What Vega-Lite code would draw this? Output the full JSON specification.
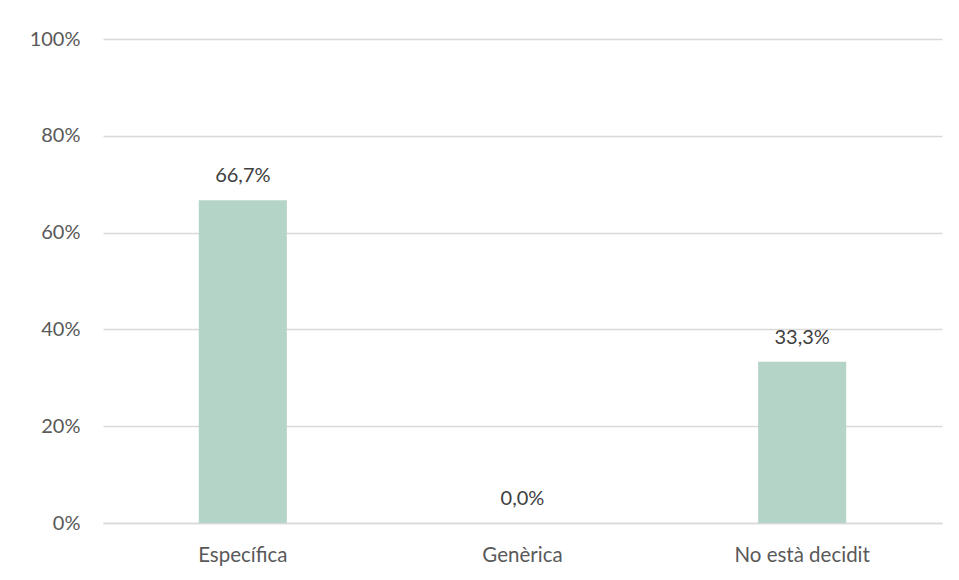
{
  "$schema": "https://vega.github.io/schema/vega-lite/v6.json",
  "width": 839,
  "height": 484,
  "autosize": {"type": "none"},
  "padding": {"left": 103, "top": 39, "right": 17, "bottom": 57},
  "background": "white",
  "config": {
    "locale": {"number": {"decimal": ",", "thousands": ".", "grouping": [3], "currency": ["", " €"]}},
    "view": {"stroke": null},
    "font": "Lato"
  },
  "data": {"values": [
    {"categoria": "Específica", "valor": 0.667},
    {"categoria": "Genèrica", "valor": 0.0},
    {"categoria": "No està decidit", "valor": 0.333}
  ]},
  "encoding": {
    "x": {"field": "categoria", "type": "nominal", "sort": null,
      "scale": {"paddingInner": 0.685, "paddingOuter": 0.3425},
      "axis": {"title": null, "labelAngle": 0, "labelFontSize": 20.5, "labelColor": "#595959", "labelPadding": 22, "ticks": false, "domainColor": "#d9d9d9", "domainWidth": 1.3}},
    "y": {"field": "valor", "type": "quantitative",
      "scale": {"domain": [0, 1]},
      "axis": {"title": null, "values": [0, 0.2, 0.4, 0.6, 0.8, 1], "format": ".0%", "labelFontSize": 20, "labelColor": "#595959", "labelPadding": 23, "ticks": false, "domain": false, "gridColor": "#d9d9d9", "gridWidth": 1.3}}
  },
  "layer": [
    {"mark": {"type": "bar", "color": "#b5d4c8"}},
    {"mark": {"type": "text", "baseline": "alphabetic", "dy": -18, "fontSize": 20, "color": "#404040"},
      "encoding": {"text": {"field": "valor", "type": "quantitative", "format": ".1%"}}}
  ]
}
